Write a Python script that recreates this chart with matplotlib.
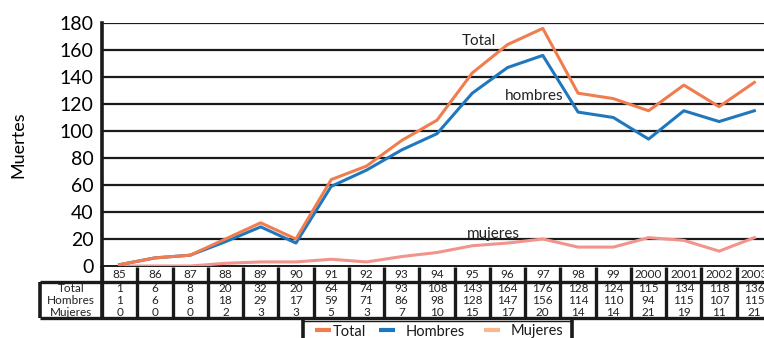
import matplotlib
matplotlib.use("Agg")
import matplotlib.pyplot as plt
from matplotlib.lines import Line2D

plt.rcParams['font.family'] = ['Lato', 'DejaVu Sans']

years = ['85', '86', '87', '88', '89', '90', '91', '92', '93', '94',
         '95', '96', '97', '98', '99', '2000', '2001', '2002', '2003']
total = [1, 6, 8, 20, 32, 20, 64, 74, 93, 108, 143, 164, 176, 128, 124, 115, 134, 118, 136]
hombres = [1, 6, 8, 18, 29, 17, 59, 71, 86, 98, 128, 147, 156, 114, 110, 94, 115, 107, 115]
mujeres = [0, 0, 0, 2, 3, 3, 5, 3, 7, 10, 15, 17, 20, 14, 14, 21, 19, 11, 21]
row_labels = ['Total', 'Hombres', 'Mujeres']
yticks = [0, 20, 40, 60, 80, 100, 120, 140, 160, 180]

c_total = '#EF7D4F'
c_hombres = '#1F78BE'
c_mujeres = '#F2938C'
c_mujeres_leg = '#F9B98C'

W, H = 764, 338
fig = plt.figure(figsize=(W / 100, H / 100), dpi=100)

def fx(px):
    return px / W

def fy(py):
    return 1 - py / H

# main plot area
x_left, x_right = 102, 772
y_top, y_bot = 23, 266
ax = fig.add_axes([fx(x_left), fy(y_bot), fx(x_right - x_left), (y_bot - y_top) / H])
x = list(range(len(years)))
ax.set_xlim(-0.5, len(years) - 0.5)
ax.set_ylim(0, 180)
for v in yticks[1:]:
    ax.axhline(v, color='#1a1a1a', lw=1.6, zorder=1)
ax.plot(x, mujeres, color=c_mujeres, lw=2.2, zorder=3)
ax.plot(x, hombres, color=c_hombres, lw=2.2, zorder=4)
ax.plot(x, total, color=c_total, lw=2.2, zorder=5)
ax.set_xticks([])
ax.set_yticks(yticks)
ax.set_yticklabels([str(v) for v in yticks], fontsize=14)
ax.tick_params(axis='y', length=0, pad=6)
for lbl in ax.get_yticklabels():
    lbl.set_verticalalignment('center_baseline')
for s in ['top', 'right']:
    ax.spines[s].set_visible(False)
ax.spines['left'].set_linewidth(2.6)
ax.spines['left'].set_color('#1a1a1a')
ax.spines['bottom'].set_linewidth(1.4)
ax.spines['bottom'].set_color('#1a1a1a')
ax.set_ylabel('Muertes', fontsize=13)
ax.yaxis.set_label_coords(-0.113, 0.5)

ax.text(10.2, 167, 'Total', fontsize=11, ha='center', va='center', color='#222222')
ax.text(11.75, 126, 'hombres', fontsize=11, ha='center', va='center', color='#222222')
ax.text(10.6, 24, 'mujeres', fontsize=11, ha='center', va='center', color='#222222')

# data table below the plot, in the same x units
tb = fig.add_axes([fx(x_left), fy(320), fx(x_right - x_left), 54 / H])
tb.set_xlim(-0.5, len(years) - 0.5)
tb.set_ylim(54, 0)
tb.axis('off')
lab_x0 = -0.5 - (x_left - 40) / ((x_right - x_left) / len(years))
k = dict(color='#1a1a1a', clip_on=False, solid_capstyle='butt')
# header row of years
for i, yr in enumerate(years):
    tb.text(i, 8.5, yr, fontsize=8.5, ha='center', va='center', color='#222222')
for i in range(len(years) + 1):
    tb.plot([i - 0.5, i - 0.5], [1, 15], lw=2.4, **k)
# value block
tb.plot([lab_x0, len(years) - 0.5], [16, 16], lw=2.4, **k)
tb.plot([lab_x0, len(years) - 0.5], [52, 52], lw=2.4, **k)
tb.plot([lab_x0, lab_x0], [16, 52], lw=2.6, **k)
for i in range(len(years) + 1):
    tb.plot([i - 0.5, i - 0.5], [16, 52], lw=2.4, **k)
tb.plot([-0.5, -0.5], [0, 52], lw=2.6, **k)
row_y = [22.5, 34, 46.5]
for r, name in enumerate(row_labels):
    tb.text((lab_x0 - 0.5) / 2, row_y[r], name, fontsize=8.5, ha='center', va='center', color='#222222')
for i in range(len(years)):
    for r, series in enumerate([total, hombres, mujeres]):
        tb.text(i, row_y[r], str(series[i]), fontsize=8.5, ha='center', va='center', color='#222222')

# legend box: key line and name for each series
legend_colors = [c_total, c_hombres, c_mujeres_leg]
key_x = [315, 379, 484]
text_x = [333, 406, 511]
for name, col, kx, tx in zip(row_labels, legend_colors, key_x, text_x):
    fig.add_artist(Line2D([fx(kx), fx(kx + 16)], [fy(330), fy(330)], color=col, lw=3,
                          solid_capstyle='butt'))
    fig.text(fx(tx), fy(330), name, fontsize=10.5, ha='left', va='center_baseline',
             color='#1a1a1a')
fig.add_artist(Line2D([fx(303), fx(572)], [fy(321), fy(321)], color='#1a1a1a', lw=1.0))
fig.add_artist(Line2D([fx(303), fx(303)], [fy(321), fy(340)], color='#1a1a1a', lw=2.6))
fig.add_artist(Line2D([fx(572), fx(572)], [fy(321), fy(340)], color='#1a1a1a', lw=2.6))

fig.savefig('out.png', dpi=100)
